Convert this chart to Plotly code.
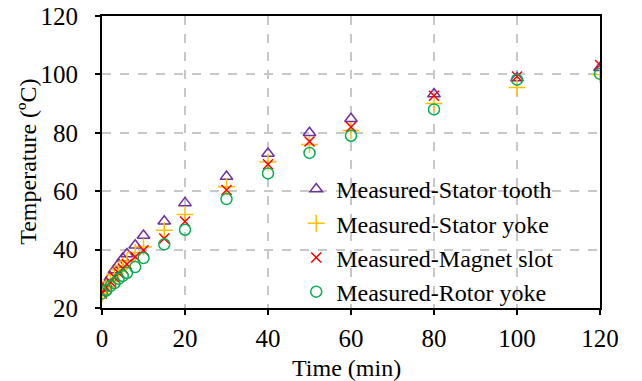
import plotly.graph_objects as go

time_min = [0, 1, 2, 3, 4, 5, 6, 8, 10, 15, 20, 30, 40, 50, 60, 80, 100, 120]
stator_tooth = [25.5, 28.0, 30.5, 33.0, 35.0, 37.0, 38.5, 41.5, 44.8, 49.7, 56.0, 65.0, 72.9, 80.0, 84.8, 93.3, 98.8, 102.3]
stator_yoke = [25.0, 27.0, 29.0, 31.5, 33.0, 34.5, 36.0, 39.0, 41.0, 46.6, 52.0, 61.5, 70.0, 76.0, 80.8, 90.0, 95.5, 100.0]
magnet_slot = [25.0, 27.0, 29.0, 30.5, 32.0, 33.5, 35.0, 37.5, 39.8, 43.8, 49.6, 60.4, 69.2, 77.0, 82.0, 92.7, 99.3, 103.2]
rotor_yoke = [25.0, 26.0, 27.5, 28.5, 30.0, 31.0, 32.0, 34.0, 37.1, 41.8, 46.8, 57.3, 66.1, 73.1, 79.0, 88.0, 98.2, 100.2]

names = ["Measured-Stator tooth", "Measured-Stator yoke", "Measured-Magnet slot", "Measured-Rotor yoke"]
series = [stator_tooth, stator_yoke, magnet_slot, rotor_yoke]
symbols = ["triangle-up-open", "cross-thin", "x-thin", "circle-open"]
colors = ["#7030A0", "#FFC000", "#FF0000", "#00B050"]
sizes = [11, 12, 10, 11]

font = "Liberation Serif, serif"

fig = go.Figure()
for n, s, sym, c, sz in zip(names, series, symbols, colors, sizes):
    fig.add_trace(go.Scatter(
        x=time_min, y=s, mode="markers", name=n,
        marker=dict(symbol=sym, size=sz, color=c, line=dict(color=c, width=1.5)),
    ))

fig.update_layout(
    template="none",
    width=642, height=381,
    margin=dict(l=102, r=42, t=16, b=73),
    paper_bgcolor="white", plot_bgcolor="white",
    font=dict(family=font, size=24, color="black"),
    showlegend=True,
    legend=dict(x=0.39, y=0.483, xanchor="left", yanchor="top",
                bgcolor="rgba(0,0,0,0)", font=dict(family=font, size=24),
                itemwidth=30, tracegroupgap=0),
    xaxis=dict(range=[0, 120], dtick=20, tick0=0, automargin=False,
               showline=True, linecolor="black", linewidth=2, mirror=True,
               ticks="outside", ticklen=5, tickwidth=1.5, tickcolor="black",
               ticklabelstandoff=2, ticklabeloverflow="allow",
               showgrid=True, gridcolor="#C8C8C8", griddash="dash", gridwidth=1.5,
               zeroline=False,
               tickfont=dict(family=font, size=25, color="black")),
    yaxis=dict(range=[20, 120], dtick=20, tick0=20, automargin=False,
               showline=True, linecolor="black", linewidth=2, mirror=True,
               ticks="outside", ticklen=5, tickwidth=1.5, tickcolor="black",
               ticklabelstandoff=12, ticklabeloverflow="allow",
               showgrid=True, gridcolor="#C8C8C8", griddash="dash", gridwidth=1.5,
               zeroline=False,
               tickfont=dict(family=font, size=25, color="black")),
    annotations=[
        dict(text="Time (min)", xref="paper", yref="paper", x=0.49, y=-0.205,
             xanchor="center", yanchor="middle", showarrow=False,
             font=dict(family=font, size=24)),
        dict(text="Temperature (ºC)", xref="paper", yref="paper", x=-0.149, y=0.5,
             xanchor="center", yanchor="middle", textangle=-90, showarrow=False,
             font=dict(family=font, size=24)),
    ],
)

fig.write_html("out.html")
